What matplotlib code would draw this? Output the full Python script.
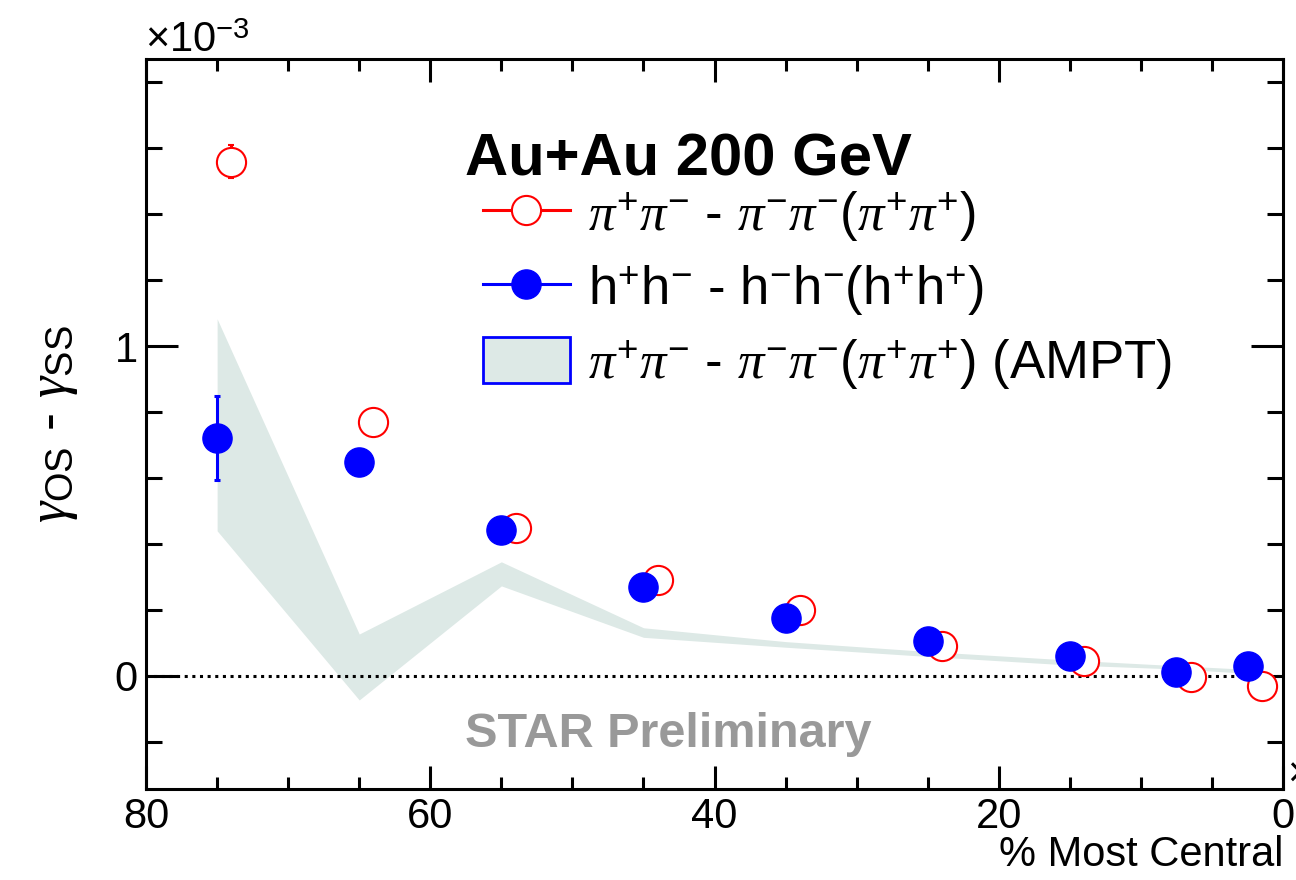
import numpy as np
import matplotlib
matplotlib.use("Agg")
import matplotlib.pyplot as plt
from matplotlib.lines import Line2D
from matplotlib.patches import Patch
from matplotlib.ticker import MultipleLocator

plt.rcParams['font.family'] = ['Liberation Sans', 'DejaVu Sans']
plt.rcParams['mathtext.fontset'] = 'custom'
plt.rcParams['mathtext.rm'] = 'Liberation Sans'
plt.rcParams['mathtext.it'] = 'Liberation Serif:italic'
plt.rcParams['mathtext.bf'] = 'Liberation Sans:bold'

# values in units of 1e-3
pi_cent = [74, 64, 54, 44, 34, 24, 14, 6.5, 1.5]
pi_val = [1.559, 0.770, 0.449, 0.291, 0.200, 0.091, 0.045, -0.004, -0.032]
pi_err = [0.05, 0.03, 0.02, 0.015, 0.012, 0.01, 0.008, 0.008, 0.01]

h_cent = [75, 65, 55, 45, 35, 25, 15, 7.5, 2.5]
h_val = [0.722, 0.649, 0.443, 0.270, 0.176, 0.106, 0.061, 0.013, 0.031]
h_err = [0.128, 0.04, 0.025, 0.015, 0.01, 0.008, 0.006, 0.005, 0.005]

ampt_cent = [75, 65, 55, 45, 35, 25, 15, 7.5, 2.5]
ampt_hi = [1.083, 0.127, 0.346, 0.146, 0.104, 0.074, 0.048, 0.031, 0.020]
ampt_lo = [0.440, -0.073, 0.273, 0.117, 0.087, 0.059, 0.033, 0.021, 0.008]

lab_pi = r'$\pi^{+}\pi^{-}$ - $\pi^{-}\pi^{-}$($\pi^{+}\pi^{+}$)'
lab_h = r'h$^{+}$h$^{-}$ - h$^{-}$h$^{-}$(h$^{+}$h$^{+}$)'
lab_ampt = lab_pi + ' (AMPT)'

band_col = '#dde9e6'

fig = plt.figure(figsize=(12.96, 8.8), dpi=100)
ax = fig.add_axes([0.1127, 0.1034, 0.8773, 0.8296])

ax.fill_between(ampt_cent, ampt_lo, ampt_hi, color=band_col, lw=0, zorder=1)
ax.axhline(0, color='black', ls=(0, (1, 1.5)), lw=2.2, zorder=2)

ax.errorbar(pi_cent, pi_val, yerr=pi_err, fmt='o', color='red', mfc='white',
            mec='red', mew=1.5, ms=21, elinewidth=2.2, capsize=2.5, capthick=2.2, zorder=3)
ax.errorbar(h_cent, h_val, yerr=h_err, fmt='o', color='blue', mfc='blue',
            mec='blue', ms=21, elinewidth=2.2, capsize=2.5, capthick=2.2, zorder=4)

ax.set_xlim(80, 0)
ax.set_ylim(-0.343, 1.871)
ax.xaxis.set_major_locator(MultipleLocator(20))
ax.xaxis.set_minor_locator(MultipleLocator(5))
ax.yaxis.set_major_locator(MultipleLocator(1))
ax.yaxis.set_minor_locator(MultipleLocator(0.2))

for s in ax.spines.values():
    s.set_linewidth(2.2)
ax.tick_params(which='both', direction='in', top=True, right=True, width=2.2, labelsize=30)
ax.tick_params(axis='x', which='major', length=16.5, pad=6)
ax.tick_params(axis='x', which='minor', length=8.6)
ax.tick_params(axis='y', which='major', length=23, pad=6)
ax.tick_params(axis='y', which='minor', length=11.5)

ax.set_xlabel('% Most Central', fontsize=30, loc='right', labelpad=-2)
ax.set_ylabel(r'$\gamma_{\mathrm{OS}}$ - $\gamma_{\mathrm{SS}}$', fontsize=39)
ax.yaxis.set_label_coords(-0.058, 0.5)

fig.text(0.112, 0.941, r'$\times$10$^{-3}$', fontsize=30, ha='left', va='baseline')
fig.text(0.993, 0.108, r'$\times$', fontsize=30, ha='left', va='baseline')

ax.text(0.2806, 0.841, 'Au+Au 200 GeV', transform=ax.transAxes, fontsize=43,
        fontweight='bold', ha='left', va='baseline')
ax.text(0.2806, 0.058, 'STAR Preliminary', transform=ax.transAxes, fontsize=35,
        fontweight='bold', color='#999999', ha='left', va='baseline')

handles = [
    Line2D([], [], color='red', lw=2.2, marker='o', mfc='white', mec='red', mew=1.5, ms=21),
    Line2D([], [], color='blue', lw=2.2, marker='o', mfc='blue', mec='blue', ms=21),
    Patch(facecolor=band_col, edgecolor='blue', lw=2),
]
ax.legend(handles, [lab_pi, lab_h, lab_ampt], loc='upper left',
          bbox_to_anchor=(0.296, 0.822), frameon=False, fontsize=38,
          borderpad=0, borderaxespad=0, handlelength=1.66, handleheight=0.98,
          handletextpad=0.34, labelspacing=0.37)

fig.savefig('out.png', dpi=100)
